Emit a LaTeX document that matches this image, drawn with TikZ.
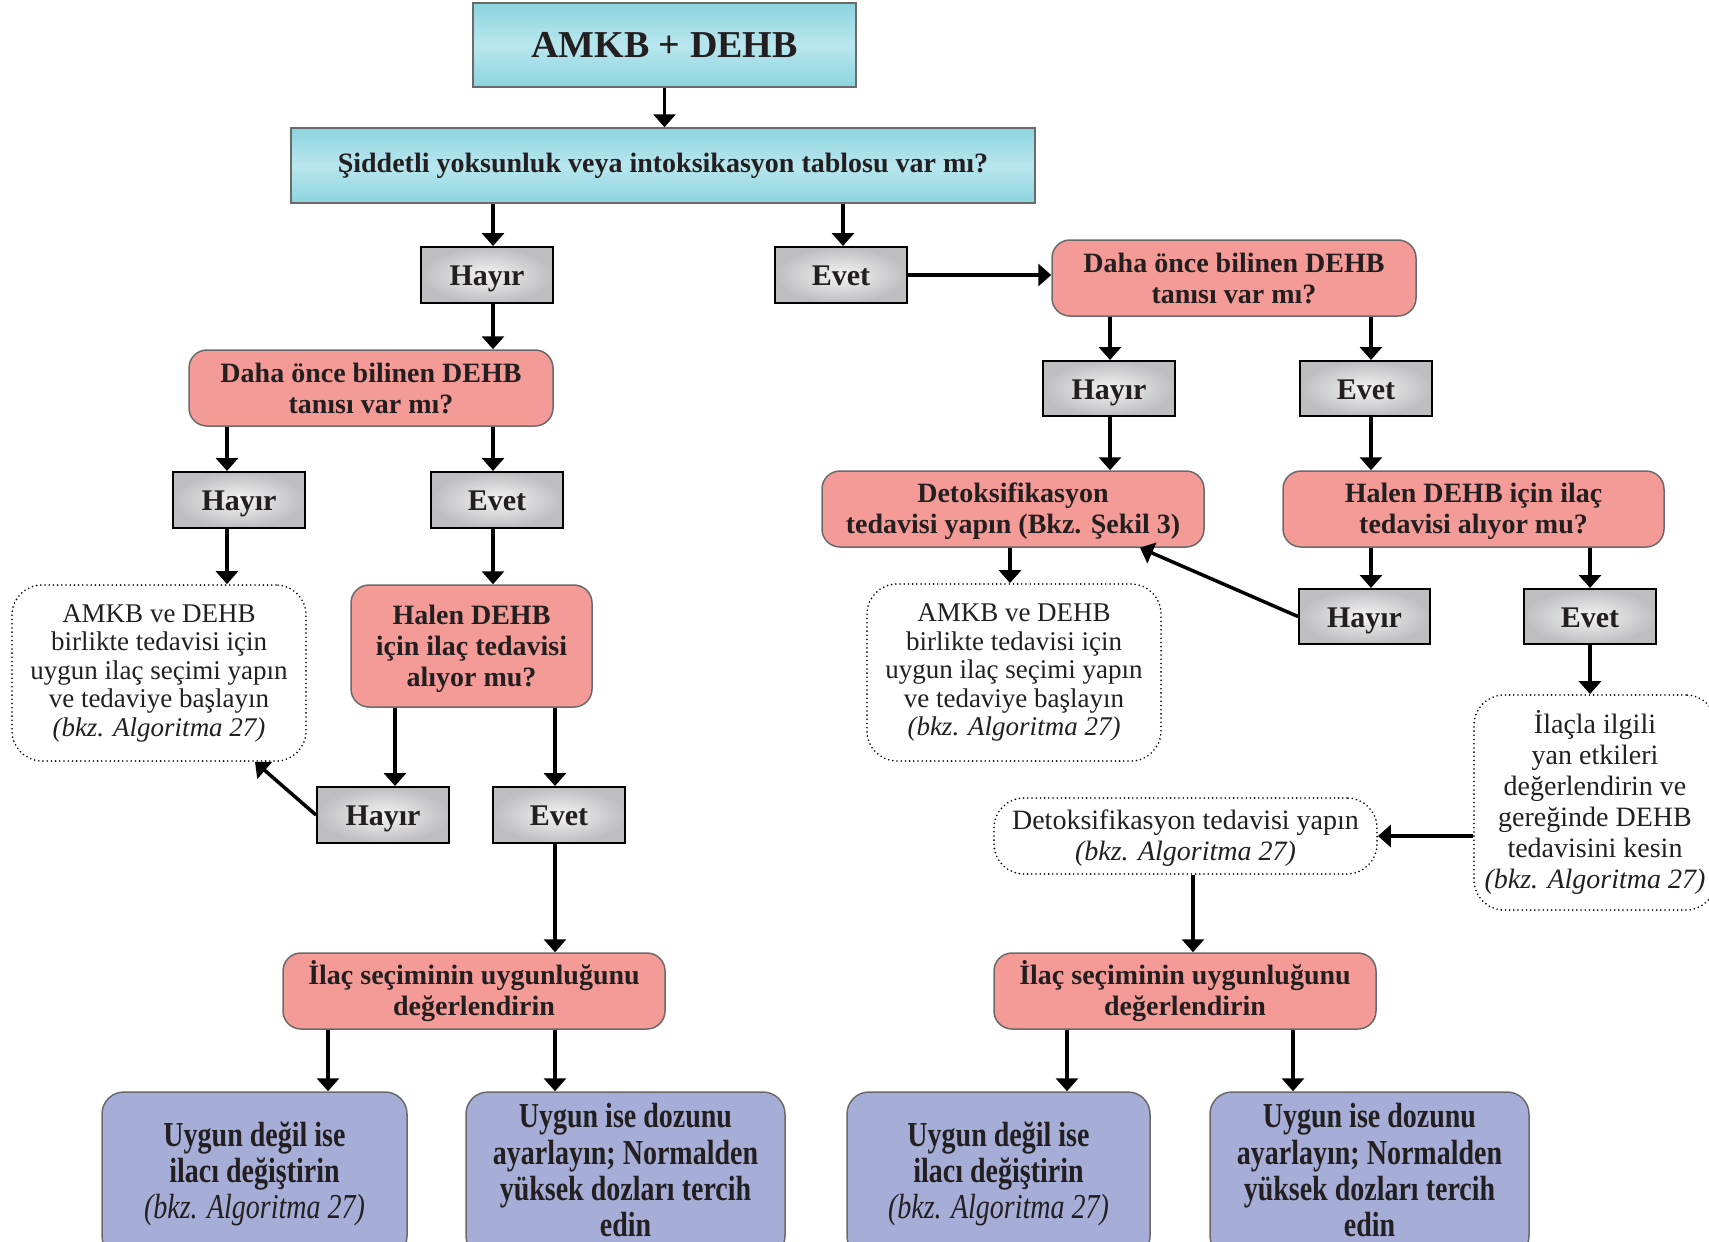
\documentclass[tikz,border=0pt]{standalone}
\usepackage{fontspec}
\setmainfont{Liberation Serif}
\usetikzlibrary{arrows.meta}
\definecolor{txt}{HTML}{231F20}
\definecolor{bord}{HTML}{6A6A6A}
\definecolor{cyE}{HTML}{8CD4DF}
\definecolor{cyM}{HTML}{B9E6EE}
\definecolor{pinkq}{HTML}{F49B97}
\definecolor{gyIn}{HTML}{F4F4F5}
\definecolor{gyOut}{HTML}{BEBEC0}
\definecolor{blu}{HTML}{A6AED7}
\tikzset{
  base/.style={inner sep=0pt, align=center, text=txt},
  titlebox/.style={base, draw=bord, line width=1.5pt, top color=cyE, bottom color=cyE, middle color=cyM,
    font=\fontsize{38}{42}\selectfont\bfseries},
  askbox/.style={base, draw=bord, line width=1.5pt, fill=pinkq, rounded corners=18pt,
    font=\fontsize{28}{31}\selectfont\bfseries},
  ansbox/.style={base, draw=black, line width=2pt, inner color=gyIn, outer color=gyOut,
    minimum width=132, minimum height=56, text height=21pt, text depth=0pt,
    font=\fontsize{30}{33}\selectfont\bfseries},
  notebox/.style={base, draw=black, line width=1.8pt, dash pattern=on 0pt off 4.2pt, line cap=round,
    rounded corners=30pt, font=\fontsize{27}{28.5}\selectfont},
  endbox/.style={base, draw=bord, line width=1.5pt, fill=blu, rounded corners=22pt,
    font=\fontsize{28}{29}\selectfont\bfseries},
  arr/.style={line width=3.5pt, -{Triangle[width=22pt,length=13pt]}},
}
\newcommand{\tall}[1]{\scalebox{1}[1.25]{\begin{tabular}{@{}c@{}}#1\end{tabular}}}
\begin{document}
\begin{tikzpicture}[x=1pt,y=-1pt]
\clip (0,0) rectangle (1709,1242);
\fill[white] (0,0) rectangle (1709,1242);

% column positions of the vertical connectors
\coordinate (cA) at (493,0);
\coordinate (cB) at (843,0);
\coordinate (cC) at (227,0);
\coordinate (cD) at (395,0);
\coordinate (cE) at (555,0);
\coordinate (cF) at (328,0);
\coordinate (cG) at (1110,0);
\coordinate (cH) at (1371,0);
\coordinate (cI) at (1590,0);
\coordinate (cJ) at (1010,0);
\coordinate (cK) at (1193,0);
\coordinate (cL) at (1067,0);
\coordinate (cM) at (1293,0);

% top
\node[titlebox, minimum width=383, minimum height=84] (title) at (664.5,45) {AMKB + DEHB};
\node[titlebox, minimum width=744, minimum height=75, font=\fontsize{28}{31}\selectfont\bfseries] (sid) at (663,165.5)
  {\raisebox{-2pt}{Şiddetli yoksunluk veya intoksikasyon tablosu var mı?}};
\node[ansbox] (hay1) at (487,275) {Hayır};
\node[ansbox] (evt1) at (841,275) {Evet};

% left branch
\node[askbox, minimum width=364, minimum height=76] (dahaL) at (371,388) {Daha önce bilinen DEHB\\tanısı var mı?};
\node[ansbox] (hayL2) at (239,500) {Hayır};
\node[ansbox] (evtL2) at (497,500) {Evet};
\node[notebox, minimum width=294, minimum height=176] (dotL) at (159,673)
  {AMKB ve DEHB\\birlikte tedavisi için\\uygun ilaç seçimi yapın\\ve tedaviye başlayın\\\textit{(bkz. Algoritma 27)}};
\node[askbox, minimum width=241, minimum height=122] (halenL) at (471.5,646)
  {\rule{0pt}{26pt}Halen DEHB\\için ilaç tedavisi\\alıyor mu?};
\node[ansbox] (hayL3) at (383,815) {Hayır};
\node[ansbox] (evtL3) at (559,815) {Evet};
\node[askbox, minimum width=382, minimum height=76] (ilacL) at (474,991) {İlaç seçiminin uygunluğunu\\değerlendirin};
\node[endbox, minimum width=305, minimum height=166] (uygdL) at (254.5,1175)
  {\tall{Uygun değil ise\\ilacı değiştirin\\\mdseries\itshape (bkz. Algoritma 27)}};
\node[endbox, minimum width=319, minimum height=166] (uygiL) at (625.5,1175)
  {\tall{Uygun ise dozunu\\ayarlayın; Normalden\\yüksek dozları tercih\\edin}};

% right branch
\node[askbox, minimum width=364, minimum height=76] (dahaR) at (1234,278) {Daha önce bilinen DEHB\\tanısı var mı?};
\node[ansbox, minimum height=55] (hayR) at (1109,388.5) {Hayır};
\node[ansbox, minimum height=55] (evtR) at (1366,388.5) {Evet};
\node[askbox, minimum width=382, minimum height=76] (detoks) at (1013,509)
  {\rule{0pt}{24pt}Detoksifikasyon\\tedavisi yapın (Bkz. Şekil 3)};
\node[askbox, minimum width=381, minimum height=76] (halenR) at (1473.5,509)
  {\rule{0pt}{24pt}Halen DEHB için ilaç\\tedavisi alıyor mu?};
\node[notebox, minimum width=294, minimum height=177] (dotM) at (1014,672.5)
  {AMKB ve DEHB\\birlikte tedavisi için\\uygun ilaç seçimi yapın\\ve tedaviye başlayın\\\textit{(bkz. Algoritma 27)}};
\node[ansbox, minimum width=131, minimum height=55] (hayR2) at (1364.5,616.5) {Hayır};
\node[ansbox, minimum height=55] (evtR2) at (1590,616.5) {Evet};
\node[notebox, minimum width=242, minimum height=215, font=\fontsize{28}{31}\selectfont] (ilacla) at (1595,802.5)
  {İlaçla ilgili\\yan etkileri\\değerlendirin ve\\gereğinde DEHB\\tedavisini kesin\\\textit{(bkz. Algoritma 27)}};
\node[notebox, minimum width=383, minimum height=76, font=\fontsize{28}{30.5}\selectfont] (detdot) at (1185.5,836)
  {\rule{0pt}{24pt}Detoksifikasyon tedavisi yapın\\\textit{(bkz. Algoritma 27)}};
\node[askbox, minimum width=382, minimum height=76] (ilacR) at (1185,991) {İlaç seçiminin uygunluğunu\\değerlendirin};
\node[endbox, minimum width=303, minimum height=166] (uygdR) at (998.5,1175)
  {\tall{Uygun değil ise\\ilacı değiştirin\\\mdseries\itshape (bkz. Algoritma 27)}};
\node[endbox, minimum width=319, minimum height=166] (uygiR) at (1369.5,1175)
  {\tall{Uygun ise dozunu\\ayarlayın; Normalden\\yüksek dozları tercih\\edin}};

% connectors
\draw[arr] (title.south) -- (sid.north -| title.south);
\draw[arr] (sid.south -| cA) -- (hay1.north -| cA);
\draw[arr] (sid.south -| cB) -- (evt1.north -| cB);
\draw[arr] (evt1.east) -- (dahaR.west |- evt1.east);

\draw[arr] (hay1.south -| cA) -- (dahaL.north -| cA);
\draw[arr] (dahaL.south -| cC) -- (hayL2.north -| cC);
\draw[arr] (dahaL.south -| cA) -- (evtL2.north -| cA);
\draw[arr] (hayL2.south -| cC) -- (dotL.north -| cC);
\draw[arr] (evtL2.south -| cA) -- (halenL.north -| cA);
\draw[arr] (halenL.south -| cD) -- (hayL3.north -| cD);
\draw[arr] (halenL.south -| cE) -- (evtL3.north -| cE);
\draw[arr] (hayL3.west) -- (dotL.south -| 255,0);
\draw[arr] (evtL3.south -| cE) -- (ilacL.north -| cE);
\draw[arr] (ilacL.south -| cF) -- (uygdL.north -| cF);
\draw[arr] (ilacL.south -| cE) -- (uygiL.north -| cE);

\draw[arr] (dahaR.south -| cG) -- (hayR.north -| cG);
\draw[arr] (dahaR.south -| cH) -- (evtR.north -| cH);
\draw[arr] (hayR.south -| cG) -- (detoks.north -| cG);
\draw[arr] (evtR.south -| cH) -- (halenR.north -| cH);
\draw[arr] (detoks.south -| cJ) -- (dotM.north -| cJ);
\draw[arr] (halenR.south -| cH) -- (hayR2.north -| cH);
\draw[arr] (halenR.south -| cI) -- (evtR2.north -| cI);
\draw[arr] (hayR2.west) -- (detoks.south -| 1140,0);
\draw[arr] (evtR2.south -| cI) -- (ilacla.north -| cI);
\draw[arr] (ilacla.west |- detdot.east) -- (detdot.east);
\draw[arr] (detdot.south -| cK) -- (ilacR.north -| cK);
\draw[arr] (ilacR.south -| cL) -- (uygdR.north -| cL);
\draw[arr] (ilacR.south -| cM) -- (uygiR.north -| cM);
\end{tikzpicture}
\end{document}
